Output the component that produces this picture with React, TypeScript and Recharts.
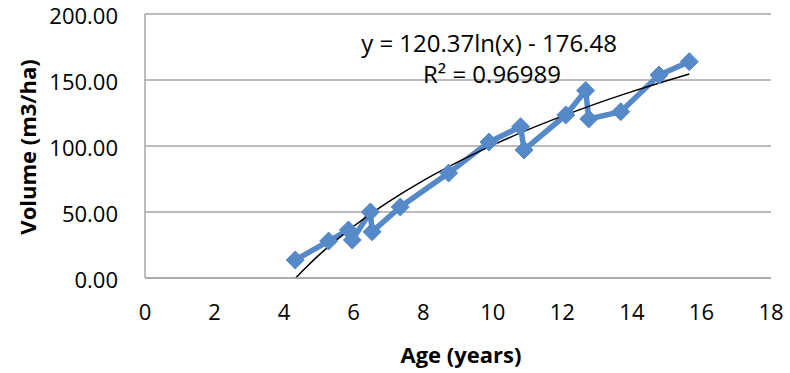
import React from 'react';
import { ComposedChart, Line, XAxis, YAxis, CartesianGrid } from 'recharts';

// observed stand age vs volume
const ages = [4.32, 5.28, 5.85, 5.96, 6.48, 6.53, 7.34, 8.73, 9.89, 10.8, 10.9, 12.1, 12.67, 12.76, 13.68, 14.78, 15.65];
const volumes = [13.6, 28, 36.4, 28.8, 50, 35, 53.8, 79.5, 103, 114.6, 97, 123.5, 142, 120.5, 126, 153.8, 163.9];

// log trendline
const trendAges = [4.33, 4.6, 5, 5.5, 6, 6.5, 7, 8, 9, 10, 11, 12, 13, 14, 15, 15.65];
const trendVolumes = [0, 7.2, 17.3, 28.7, 39.2, 48.8, 57.7, 73.8, 88, 100.7, 112.2, 122.6, 132.3, 141.2, 149.5, 154.6];

const xTicks = [0, 2, 4, 6, 8, 10, 12, 14, 16, 18];
const yTicks = [0, 50, 100, 150, 200];

const equation = 'y = 120.37ln(x) - 176.48';
const rSquared = 'R² = 0.96989';

const BLUE = '#5589C7';
const FONT = '"Open Sans", Lato, sans-serif';

const observed = ages.map((a, i) => ({ x: a, y: volumes[i] }));
const trend = trendAges.map((a, i) => ({ x: a, y: trendVolumes[i] }));

const Diamond = (props: any) => {
    const { cx, cy, index } = props;
    if (cx == null || cy == null) return null;
    const r = 9;
    return (
        <polygon
            key={'d' + index}
            points={`${cx},${cy - r} ${cx + r},${cy} ${cx},${cy + r} ${cx - r},${cy}`}
            fill={BLUE}
            stroke={BLUE}
            strokeWidth={1}
        />
    );
};

const YTick = (props: any) => {
    const { x, y, payload } = props;
    return (
        <text x={x} y={y} dy={10} textAnchor='end' fontFamily={FONT} fontSize={22} fill='#000'>
            {Number(payload.value).toFixed(2)}
        </text>
    );
};

export default function App() {
    const tickStyle = { fontFamily: FONT, fontSize: 22, fill: '#000' };
    return (
        <div style={{ position: 'absolute', left: 0, top: 0, width: 790, height: 373, background: '#fff' }}>
            <ComposedChart
                width={790}
                height={373}
                margin={{ top: 14, right: 19, bottom: 0, left: 0 }}
            >
                <CartesianGrid horizontal={true} vertical={false} stroke='#A6A6A6' strokeWidth={1.5} />
                <XAxis
                    dataKey='x'
                    type='number'
                    domain={[0, 18]}
                    ticks={xTicks}
                    allowDataOverflow={true}
                    height={95}
                    tickLine={false}
                    tickMargin={20}
                    axisLine={{ stroke: '#A6A6A6', strokeWidth: 1.5 }}
                    tick={tickStyle}
                    interval={0}
                />
                <YAxis
                    dataKey='y'
                    type='number'
                    domain={[0, 200]}
                    ticks={yTicks}
                    width={145}
                    tickLine={false}
                    tickMargin={21}
                    axisLine={{ stroke: '#A6A6A6', strokeWidth: 1.5 }}
                    tick={<YTick />}
                    interval={0}
                />
                <Line
                    data={observed}
                    dataKey='y'
                    type='linear'
                    stroke={BLUE}
                    strokeWidth={5.5}
                    dot={Diamond}
                    activeDot={false}
                    isAnimationActive={false}
                />
                <Line
                    data={trend}
                    dataKey='y'
                    type='monotone'
                    stroke='#000'
                    strokeWidth={1.5}
                    dot={false}
                    activeDot={false}
                    isAnimationActive={false}
                />
            </ComposedChart>
            <div style={{
                position: 'absolute', left: 27, top: 147, transform: 'translate(-50%, -50%) rotate(-90deg)',
                fontFamily: FONT, fontWeight: 'bold', fontSize: 22, whiteSpace: 'nowrap'
            }}>Volume (m3/ha)</div>
            <div style={{
                position: 'absolute', left: 461, top: 354, transform: 'translate(-50%, -50%)',
                fontFamily: FONT, fontWeight: 'bold', fontSize: 22, whiteSpace: 'nowrap'
            }}>Age (years)</div>
            <div style={{
                position: 'absolute', left: 489, top: 42, transform: 'translate(-50%, -50%)',
                fontFamily: FONT, fontSize: 24, whiteSpace: 'nowrap'
            }}>{equation}</div>
            <div style={{
                position: 'absolute', left: 492, top: 73, transform: 'translate(-50%, -50%)',
                fontFamily: FONT, fontSize: 24, whiteSpace: 'nowrap'
            }}>{rSquared}</div>
        </div>
    );
}
